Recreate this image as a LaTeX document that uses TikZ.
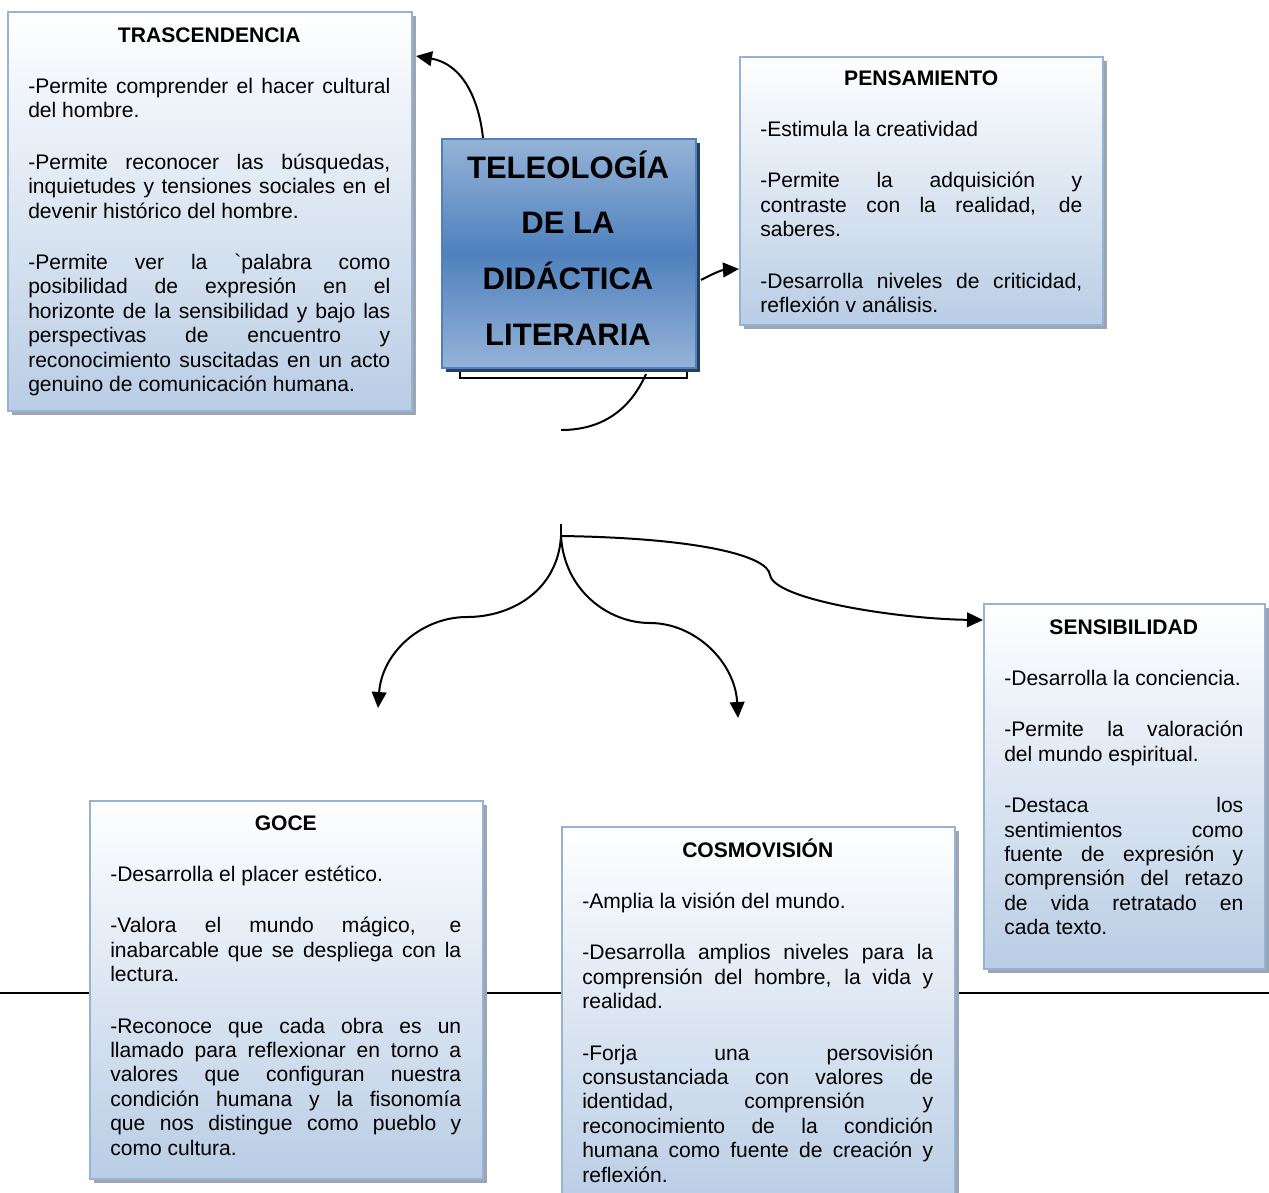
\documentclass[tikz,border=0pt]{standalone}
\usepackage{fontspec}
\setmainfont{Liberation Sans}
\usetikzlibrary{arrows.meta,shadows,calc}

% one unit of the drawing grid
\newlength\px \setlength\px{0.75pt}

\definecolor{boxedge}{RGB}{149,179,215}
\definecolor{boxlow}{RGB}{185,205,229}
\definecolor{boxshade}{RGB}{158,164,176}
\definecolor{coreblue}{RGB}{79,129,189}
\definecolor{corelight}{RGB}{149,179,215}
\definecolor{coreshade}{RGB}{38,64,98}

% lines of the text blocks
\newcommand\jline[1]{\hbox to\hsize{#1}}            % justified line
\newcommand\pline[1]{\hbox{#1}}                     % last line of a paragraph
\newcommand\headline[1]{\hbox to\hsize{\hfil\bfseries #1\hfil}}
\newcommand\pgap{\vskip 27\px}
\newcommand\textblock[2]{\vtop{\hsize=#1\px \baselineskip=24.4\px
  \lineskiplimit=-100pt \lineskip=0pt #2}}

\tikzset{
  x=0.75pt, y=-0.75pt,
  infobox/.style={draw=boxedge, line width=1.5pt, top color=white,
    bottom color=boxlow, anchor=north west, inner sep=0pt,
    drop shadow={shadow xshift=3pt, shadow yshift=-3pt, fill=boxshade, opacity=1}},
  corebox/.style={draw=coreblue, line width=1.5pt, top color=corelight,
    bottom color=corelight, middle color=coreblue, anchor=north west, inner sep=0pt,
    drop shadow={shadow xshift=3pt, shadow yshift=-3pt, fill=coreshade, opacity=1}},
  bodytext/.style={anchor=base west, inner sep=0pt,
    font=\fontsize{15.8pt}{18.3pt}\selectfont},
  conn/.style={line width=1.5pt, -{Triangle[length=12pt,width=11pt]}},
  link/.style={line width=1.5pt},
}

\begin{document}
\begin{tikzpicture}
\useasboundingbox (0,0) rectangle (1269,1192);

% horizontal rule behind the lower boxes
\coordinate (rule-l) at (0,993);
\coordinate (rule-r) at (1269,993);
\draw[line width=1.5pt] (rule-l) -- (rule-r);

% central title box
\node[draw=black, fill=white, line width=1.2pt, anchor=north west, inner sep=0pt,
      minimum width=170.25pt, minimum height=16.5pt] (corebase) at (459,355) {};
\node[corebox, minimum width=190.5pt, minimum height=171.75pt] (core) at (441,138) {};
\node[anchor=base, inner sep=0pt, font=\fontsize{23.3pt}{27pt}\selectfont] (core-t) at (568,178)
  {\vtop{\hsize=254\px \baselineskip=55.7\px \lineskiplimit=-100pt
   \headline{TELEOLOGÍA}\headline{DE LA}\headline{DIDÁCTICA}\headline{LITERARIA}}};

% TRASCENDENCIA
\node[infobox, minimum width=303pt, minimum height=299.25pt] (tras) at (7,11) {};
\node[bodytext] (tras-t) at (28,42) {\textblock{362}{%
  \headline{TRASCENDENCIA}\pgap
  \jline{-Permite comprender el hacer cultural}
  \pline{del hombre.}\pgap
  \jline{-Permite reconocer las búsquedas,}
  \jline{inquietudes y tensiones sociales en el}
  \pline{devenir histórico del hombre.}\pgap
  \jline{-Permite ver la \textasciigrave palabra como}
  \jline{posibilidad de expresión en el}
  \jline{horizonte de la sensibilidad y bajo las}
  \jline{perspectivas de encuentro y}
  \jline{reconocimiento suscitadas en un acto}
  \pline{genuino de comunicación humana.}}};

% PENSAMIENTO
\node[infobox, minimum width=272.25pt, minimum height=201pt] (pens) at (739,56) {};
\node[bodytext] (pens-t) at (760,85) {\textblock{322}{%
  \headline{PENSAMIENTO}\pgap
  \pline{-Estimula la creatividad}\pgap
  \jline{-Permite la adquisición y}
  \jline{contraste con la realidad, de}
  \pline{saberes.}\pgap
  \jline{-Desarrolla niveles de criticidad,}
  \pline{reflexión v análisis.}}};

% SENSIBILIDAD
\node[infobox, minimum width=210.75pt, minimum height=273.75pt] (sens) at (983,603) {};
\node[bodytext] (sens-t) at (1004,634) {\textblock{239}{%
  \headline{SENSIBILIDAD}\pgap
  \pline{-Desarrolla la conciencia.}\pgap
  \jline{-Permite la valoración}
  \pline{del mundo espiritual.}\pgap
  \jline{-Destaca los}
  \jline{sentimientos como}
  \jline{fuente de expresión y}
  \jline{comprensión del retazo}
  \jline{de vida retratado en}
  \pline{cada texto.}}};

% GOCE
\node[infobox, minimum width=294.75pt, minimum height=283.5pt] (goce) at (89,800) {};
\node[bodytext] (goce-t) at (110,830) {\textblock{351}{%
  \headline{GOCE}\pgap
  \pline{-Desarrolla el placer estético.}\pgap
  \jline{-Valora el mundo mágico, e}
  \jline{inabarcable que se despliega con la}
  \pline{lectura.}\pgap
  \jline{-Reconoce que cada obra es un}
  \jline{llamado para reflexionar en torno a}
  \jline{valores que configuran nuestra}
  \jline{condición humana y la fisonomía}
  \jline{que nos distingue como pueblo y}
  \pline{como cultura.}}};

% COSMOVISIÓN
\node[infobox, minimum width=294.75pt, minimum height=285pt] (cosmo) at (561,826) {};
\node[bodytext] (cosmo-t) at (582,857) {\textblock{351}{%
  \headline{COSMOVISIÓN}\pgap
  \pline{-Amplia la visión del mundo.}\pgap
  \jline{-Desarrolla amplios niveles para la}
  \jline{comprensión del hombre, la vida y}
  \pline{realidad.}\pgap
  \jline{-Forja una persovisión}
  \jline{consustanciada con valores de}
  \jline{identidad, comprensión y}
  \jline{reconocimiento de la condición}
  \jline{humana como fuente de creación y}
  \pline{reflexión.}}};

% connectors from the title box
\draw[conn] ($(core.north west)+(42,0)$) .. controls (479,100) and (463,64) .. ($(tras.north east)+(3,45)$);
\draw[conn] ($(core.north east)+(4,142)$) .. controls (712,274) and (722,270) .. ($(pens.north west)+(0,213)$);

\coordinate (hang) at (561,430);
\draw[link] ($(core.south west)+(205,5)$) .. controls (630,410) and (602,430) .. (hang);

% fork towards the lower boxes
\coordinate (forktop) at (561,524);
\coordinate (fork) at (561,536);
\coordinate (tipL) at (378,708);
\coordinate (tipM) at (738,718);
\draw[link] (forktop) -- (fork);
\draw[conn] (fork) .. controls (558,590) and (512,617) .. (467,617)
                   .. controls (422,617) and (382,652) .. (tipL);
\draw[conn] (fork) .. controls (564,590) and (608,623) .. (650,623)
                   .. controls (695,623) and (735,662) .. (tipM);
\draw[conn] (fork) .. controls (700,538) and (768,556) .. (770,575)
                   .. controls (774,600) and (900,619) .. ($(sens.north west)+(0,17)$);
\end{tikzpicture}
\end{document}
